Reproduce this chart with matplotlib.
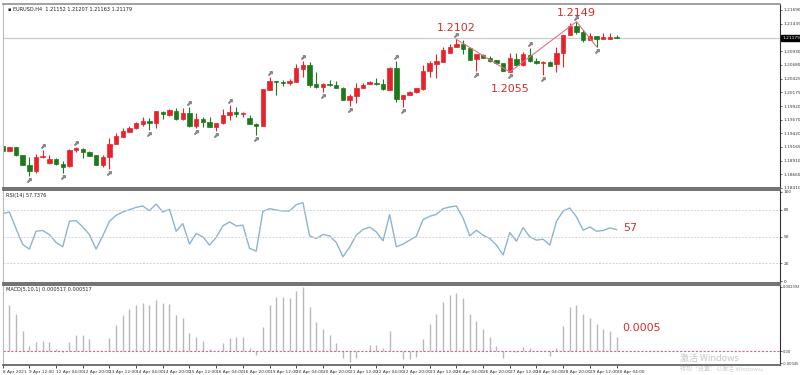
import numpy as np
import matplotlib
matplotlib.use("Agg")
import matplotlib.pyplot as plt
from matplotlib.transforms import offset_copy

# EURUSD H4 candles, 8 Apr 20:00 -> 30 Apr 04:00
opens = [
    1.19190, 1.19097, 1.19165, 1.19018, 1.18833, 1.18729, 1.18975, 1.18876, 1.18950, 1.18852,
    1.18815, 1.19104, 1.19134, 1.19079, 1.19011, 1.18839, 1.18987, 1.19220, 1.19355, 1.19448,
    1.19515, 1.19595, 1.19644, 1.19613, 1.19816, 1.19755, 1.19828, 1.19675, 1.19785, 1.19552,
    1.19675, 1.19632, 1.19527, 1.19601, 1.19749, 1.19810, 1.19767, 1.19699, 1.19589, 1.19558,
    1.20215, 1.20381, 1.20369, 1.20338, 1.20369, 1.20602, 1.20676, 1.20320, 1.20271, 1.20332,
    1.20314, 1.20258, 1.20031, 1.20111, 1.20252, 1.20326, 1.20338, 1.20320, 1.20215, 1.20627,
    1.20050, 1.20123, 1.20172, 1.20228, 1.20566, 1.20695, 1.20738, 1.20903, 1.21014, 1.21063,
    1.20983, 1.20781, 1.20867, 1.20811, 1.20768, 1.20707, 1.20553, 1.20793, 1.20676, 1.20860,
    1.20756, 1.20707, 1.20738, 1.20695, 1.20891, 1.21229, 1.21395, 1.21290, 1.21137, 1.21211,
    1.21161, 1.21161, 1.21198]
highs = [
    1.19200, 1.19170, 1.19170, 1.19025, 1.18987, 1.19036, 1.19110, 1.19011, 1.18960, 1.18913,
    1.19120, 1.19171, 1.19140, 1.19085, 1.19018, 1.19018, 1.19331, 1.19417, 1.19521, 1.19552,
    1.19620, 1.19712, 1.19693, 1.19835, 1.19835, 1.19859, 1.19878, 1.19878, 1.19908, 1.19798,
    1.19712, 1.19712, 1.19613, 1.19859, 1.19945, 1.19908, 1.19816, 1.19749, 1.19601, 1.20240,
    1.20449, 1.20385, 1.20400, 1.20418, 1.20695, 1.20756, 1.20738, 1.20553, 1.20338, 1.20400,
    1.20387, 1.20265, 1.20142, 1.20351, 1.20338, 1.20381, 1.20430, 1.20412, 1.20635, 1.20750,
    1.20128, 1.20190, 1.20252, 1.20676, 1.20750, 1.20873, 1.21014, 1.21057, 1.21149, 1.21137,
    1.21014, 1.20880, 1.20873, 1.20842, 1.20775, 1.20713, 1.20891, 1.20891, 1.20922, 1.20983,
    1.20799, 1.20750, 1.20745, 1.21014, 1.21235, 1.21444, 1.21475, 1.21321, 1.21272, 1.21217,
    1.21260, 1.21260, 1.21229]
lows = [
    1.19090, 1.19090, 1.19005, 1.18825, 1.18637, 1.18680, 1.18970, 1.18852, 1.18840, 1.18680,
    1.18805, 1.19079, 1.18956, 1.18999, 1.18833, 1.18803, 1.18753, 1.19214, 1.19343, 1.19441,
    1.19505, 1.19558, 1.19478, 1.19509, 1.19675, 1.19742, 1.19670, 1.19663, 1.19540, 1.19509,
    1.19540, 1.19527, 1.19466, 1.19595, 1.19663, 1.19724, 1.19712, 1.19580, 1.19386, 1.19550,
    1.20210, 1.20123, 1.20295, 1.20308, 1.20360, 1.20461, 1.20265, 1.20246, 1.20185, 1.20289,
    1.20246, 1.20025, 1.19921, 1.19970, 1.20246, 1.20320, 1.20308, 1.20215, 1.20210, 1.20000,
    1.19908, 1.20118, 1.20165, 1.20222, 1.20449, 1.20443, 1.20730, 1.20891, 1.21008, 1.20873,
    1.20762, 1.20566, 1.20805, 1.20738, 1.20700, 1.20560, 1.20548, 1.20664, 1.20664, 1.20738,
    1.20695, 1.20492, 1.20658, 1.20553, 1.20645, 1.21223, 1.21241, 1.21106, 1.21131, 1.21014,
    1.21149, 1.21149, 1.21175]
closes = [
    1.19097, 1.19165, 1.19011, 1.18833, 1.18729, 1.18975, 1.18999, 1.18950, 1.18846, 1.18803,
    1.19110, 1.19140, 1.19073, 1.19005, 1.18839, 1.18981, 1.19220, 1.19362, 1.19460, 1.19521,
    1.19607, 1.19644, 1.19607, 1.19828, 1.19767, 1.19841, 1.19675, 1.19785, 1.19552, 1.19681,
    1.19632, 1.19540, 1.19607, 1.19755, 1.19810, 1.19767, 1.19792, 1.19583, 1.19552, 1.20228,
    1.20381, 1.20357, 1.20338, 1.20381, 1.20615, 1.20676, 1.20308, 1.20277, 1.20326, 1.20314,
    1.20258, 1.20031, 1.20111, 1.20252, 1.20314, 1.20357, 1.20320, 1.20228, 1.20627, 1.20043,
    1.20123, 1.20185, 1.20246, 1.20572, 1.20707, 1.20750, 1.20953, 1.21014, 1.21063, 1.20971,
    1.20768, 1.20873, 1.20811, 1.20750, 1.20707, 1.20566, 1.20799, 1.20676, 1.20880, 1.20756,
    1.20707, 1.20738, 1.20664, 1.20891, 1.21229, 1.21395, 1.21290, 1.21137, 1.21211, 1.21155,
    1.21186, 1.21198, 1.21180]

rsi = [
    75.6, 77.4, 58.9, 41.1, 35.9, 55.9, 56.7, 52.2, 43.3, 38.5,
    67.0, 67.8, 60.7, 52.2, 35.9, 50.7, 67.0, 73.7, 77.4, 80.0,
    82.6, 84.1, 78.9, 86.3, 77.4, 80.4, 55.9, 64.4, 41.5, 53.3,
    49.6, 40.4, 48.9, 61.9, 66.3, 61.9, 62.6, 36.7, 33.7, 78.1,
    81.1, 79.6, 78.5, 78.5, 85.6, 87.8, 50.7, 47.8, 52.2, 50.7,
    43.3, 27.4, 38.1, 51.5, 57.8, 60.4, 55.2, 45.2, 74.4, 38.5,
    41.5, 45.9, 50.4, 68.9, 72.6, 74.8, 81.1, 83.0, 84.1, 70.7,
    50.7, 57.0, 51.5, 47.8, 40.4, 29.3, 54.4, 44.8, 60.0, 49.6,
    45.9, 47.0, 40.4, 67.0, 78.5, 81.9, 71.9, 57.0, 60.7, 55.9,
    56.7, 59.6, 57.7]

macd = [
    np.nan, 0.001716, 0.001373, 0.000760, 0.000208, 0.000355, 0.000380, 0.000331, 0.000086, -0.000037,
    0.000355, 0.000613, 0.000613, 0.000453, 0.000025, 0.000010, 0.000490, 0.000968, 0.001336, 0.001557,
    0.001716, 0.001802, 0.001704, 0.001887, 0.001789, 0.001765, 0.001336, 0.001226, 0.000674, 0.000539,
    0.000392, 0.000086, 0.000025, 0.000294, 0.000490, 0.000539, 0.000539, 0.000123, -0.000123, 0.000919,
    0.001716, 0.002010, 0.002010, 0.001961, 0.002231, 0.002378, 0.001655, 0.001103, 0.000821, 0.000613,
    0.000319, -0.000245, -0.000404, -0.000245, 0.000020, 0.000245, 0.000233, 0.000110, 0.000770, 0.0,
    -0.000270, -0.000282, -0.000196, 0.000453, 0.001005, 0.001373, 0.001838, 0.002084, 0.002169, 0.001961,
    0.001373, 0.001128, 0.000821, 0.000515, 0.000208, -0.000245, 0.000010, -0.000037, 0.000172, 0.000110,
    0.0, 0.0, -0.000159, 0.000123, 0.000944, 0.001642, 0.001716, 0.001373, 0.001226, 0.001005,
    0.000821, 0.000735, 0.000517]

fractal_up = [6, 11, 28, 34, 40, 45, 59, 68, 79, 86]
fractal_down = [4, 9, 16, 22, 29, 32, 38, 48, 52, 60, 71, 76, 81, 89]
zigzag_idx = [68, 76, 86, 89]
zigzag_val = [1.21149, 1.20548, 1.21475, 1.21014]

price_ticks = [1.21690, 1.21435, 1.20930, 1.20680, 1.20425, 1.20175, 1.19920,
               1.19670, 1.19420, 1.19165, 1.18910, 1.18660, 1.18410]
last_price = 1.21179

time_labels = ["8 Apr 2021", "9 Apr 12:00", "12 Apr 04:00", "12 Apr 20:00", "13 Apr 12:00",
               "14 Apr 04:00", "14 Apr 20:00", "15 Apr 12:00", "16 Apr 04:00", "16 Apr 20:00",
               "19 Apr 12:00", "20 Apr 04:00", "20 Apr 20:00", "21 Apr 12:00", "22 Apr 04:00",
               "22 Apr 20:00", "23 Apr 12:00", "26 Apr 04:00", "26 Apr 20:00", "27 Apr 12:00",
               "28 Apr 04:00", "28 Apr 20:00", "29 Apr 12:00", "30 Apr 04:00"]

RED = "#e8222b"
GREEN = "#1c7a1c"
ANNO = "#d62d2d"
SMALL = 3.1

o = np.array(opens); h = np.array(highs); l = np.array(lows); c = np.array(closes)
x = np.arange(len(o))
cols = [RED if cc >= oo else GREEN for oo, cc in zip(o, c)]
x0, x1 = 0.05, 116.5

fig = plt.figure(figsize=(8, 3.75), dpi=100, facecolor="white")
ax = fig.add_axes([3/800, 187/375, 777/800, 184/375])
ax_rsi = fig.add_axes([3/800, 92/375, 777/800, 93/375], sharex=ax)
ax_macd = fig.add_axes([3/800, 10/375, 777/800, 80/375], sharex=ax)

for a in (ax, ax_rsi, ax_macd):
    a.set_facecolor("white")
    a.yaxis.tick_right()
    a.tick_params(axis="y", labelsize=SMALL, length=1.5, width=0.5, pad=1, colors="#333333")
    a.tick_params(axis="x", length=0)
    for s in ("top", "bottom"):
        a.spines[s].set_color("#666666")
        a.spines[s].set_linewidth(1.3)
    a.spines["left"].set_color("#bbbbbb")
    a.spines["left"].set_linewidth(0.8)
    a.spines["right"].set_color("#333333")
    a.spines["right"].set_linewidth(0.8)
ax.spines["top"].set_color("#999999")

# candles
ax.vlines(x, l, h, colors=cols, linewidth=0.8)
ax.bar(x, np.abs(c - o), bottom=np.minimum(o, c), width=0.66, color=cols,
       edgecolor=cols, linewidth=0.5)
ax.axhline(last_price, color="#cccccc", linewidth=0.9, zorder=0)

up_tr = offset_copy(ax.transData, fig=fig, x=0, y=4, units="dots")
dn_tr = offset_copy(ax.transData, fig=fig, x=0, y=-4, units="dots")
ax.plot(fractal_up, h[fractal_up], ls="none", marker=r"$\nearrow$", ms=2.6,
        color="#8a8a8a", transform=up_tr)
ax.plot(fractal_down, l[fractal_down], ls="none", marker=r"$\nearrow$", ms=2.6,
        color="#8a8a8a", transform=dn_tr)
ax.plot(zigzag_idx, zigzag_val, color="#e07088", linewidth=0.8)

ax.annotate("1.2102", (zigzag_idx[0], zigzag_val[0]), xytext=(0, 8), textcoords="offset points",
            ha="center", va="center", color=ANNO, fontsize=8)
ax.annotate("1.2055", (zigzag_idx[1], zigzag_val[1]), xytext=(0, -12.5), textcoords="offset points",
            ha="center", va="center", color=ANNO, fontsize=8)
ax.annotate("1.2149", (zigzag_idx[2], zigzag_val[2]), xytext=(0, 6.5), textcoords="offset points",
            ha="center", va="center", color=ANNO, fontsize=8)

ax.set_ylim(1.18409, 1.21800)
ax.set_yticks(price_ticks, [f"{p:.5f}" for p in price_ticks])
ax.text(1.003, last_price, f"{last_price:.5f}", transform=ax.get_yaxis_transform(),
        fontsize=SMALL, color="white", va="center", ha="left",
        bbox=dict(boxstyle="square,pad=0.2", fc="black", ec="black"))
ax.text(0.006, 0.985, "\u25aa EURUSD,H4  1.21152 1.21207 1.21163 1.21179", transform=ax.transAxes,
        fontsize=3.6, va="top", ha="left", color="#222222")

# RSI
ax_rsi.plot(x, rsi, color="#8cb4d2", linewidth=1.0)
for lv in (80, 50, 20):
    ax_rsi.axhline(lv, color="#d4d4d4", linewidth=0.7, linestyle=(0, (2, 1.5)))
ax_rsi.set_ylim(-2, 102)
ax_rsi.set_yticks([100, 80, 50, 20, 0], ["100", "80", "50", "20", "0"])
ax_rsi.text(0.004, 0.97, "RSI(14) 57.7376", transform=ax_rsi.transAxes, fontsize=3.6,
            va="top", ha="left", color="#222222")
ax_rsi.annotate("57", (x[-1], rsi[-1]), xytext=(5, 1), textcoords="offset points",
                ha="left", va="center", color=ANNO, fontsize=8)

# MACD
m = np.array(macd)
ax_macd.vlines(x, 0, m, colors="#b8b8b8", linewidth=1.0)
ax_macd.axhline(0, color="#e0607a", linewidth=0.8, linestyle=(0, (2, 1.5)))
ax_macd.set_ylim(-0.00051, 0.00246)
ax_macd.set_yticks([0.002392, 0.0, -0.00045], ["0.002392", "0.00", "-0.00045"])
ax_macd.tick_params(axis="y", labelsize=2.6, pad=0.6)
ax_macd.text(0.004, 0.97, "MACD(5,10,1) 0.000517 0.000517", transform=ax_macd.transAxes,
             fontsize=3.6, va="top", ha="left", color="#222222")
ax_macd.annotate("0.0005", (x[-1], m[-1]), xytext=(4, 7), textcoords="offset points",
                 ha="left", va="center", color=ANNO, fontsize=8)

tick_pos = [x0] + list(range(4, len(x), 4))
ax_macd.set_xticks(tick_pos)
ax_macd.set_xticklabels(time_labels, ha="left", fontsize=SMALL, color="#333333")
ax_macd.tick_params(axis="x", length=2, width=0.5, pad=1.5, direction="out")
plt.setp(ax.get_xticklabels(), visible=False)
plt.setp(ax_rsi.get_xticklabels(), visible=False)
ax.set_xlim(x0, x1)

cjk = ["Noto Sans CJK SC", "DejaVu Sans"]
fig.text(680/800, 1 - 358/375, "激活 Windows", family=cjk, fontsize=6.5, color="#c4c4c4",
         va="center", ha="left")
fig.text(680/800, 1 - 369/375, "转到“设置”以激活 Windows。", family=cjk, fontsize=4.3,
         color="#cfcfcf", va="center", ha="left")

fig.savefig("out.png", dpi=100, facecolor="white")
